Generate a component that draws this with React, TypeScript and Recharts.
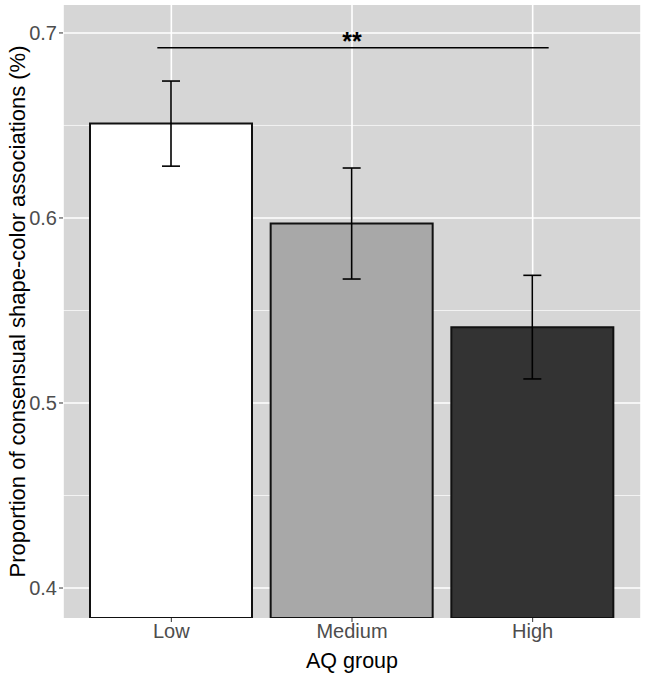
import { ComposedChart, Bar, Cell, ErrorBar, XAxis, YAxis, CartesianGrid, ReferenceLine, ReferenceArea } from 'recharts';

const categories = ['Low', 'Medium', 'High'];
const means = [0.651, 0.597, 0.541];
const lower = [0.628, 0.567, 0.513];
const upper = [0.674, 0.627, 0.569];
const fills = ['#ffffff', '#a8a8a8', '#333333'];
const yTicks = [0.4, 0.5, 0.6, 0.7];
const yMinor = [0.45, 0.55, 0.65];
const sigY = 0.692;

const data = categories.map((group, i) => ({
  group,
  mean: means[i],
  err: [means[i] - lower[i], upper[i] - means[i]],
}));

const font = '"Liberation Sans", Arial, sans-serif';

// bracket runs a little past the outer bar centres, like ggsignif
const SigLine = (props: any) => {
  const { x1, x2, y1 } = props;
  return <line x1={x1 - 14} x2={x2 + 16} y1={y1} y2={y1} stroke="#000" strokeWidth={1.3} />;
};

export default function App() {
  return (
    <div style={{ position: 'absolute', left: 0, top: 0, fontFamily: font }}>
      <ComposedChart width={646} height={673} data={data} margin={{ top: 5, right: 5, bottom: 0, left: 8 }}>
        <CartesianGrid fill="#d6d6d6" stroke="#ffffff" strokeWidth={1.6} horizontalValues={yTicks} />
        <CartesianGrid fill="none" stroke="#ffffff" strokeWidth={0.7} horizontalValues={yMinor} vertical={false} />
        <XAxis
          dataKey="group"
          height={55}
          padding={{ left: 18, right: 18 }}
          axisLine={false}
          tickSize={4}
          tickLine={{ stroke: '#333' }}
          tick={{ fill: '#4d4d4d', fontSize: 20, fontFamily: font }}
          label={{ value: 'AQ group', position: 'insideBottom', offset: 5, fill: '#000', fontSize: 21.5, fontFamily: font }}
        />
        <YAxis
          type="number"
          domain={[0.3838, 0.7151]}
          ticks={yTicks}
          allowDataOverflow
          width={55}
          axisLine={false}
          tickSize={4}
          tickLine={{ stroke: '#333' }}
          tickFormatter={(v: number) => v.toFixed(1)}
          tick={{ fill: '#4d4d4d', fontSize: 20, fontFamily: font }}
          label={{
            value: 'Proportion of consensual shape-color associations (%)',
            angle: -90,
            position: 'insideLeft',
            offset: 9,
            style: { textAnchor: 'middle' },
            fill: '#000',
            fontSize: 22,
            fontFamily: font,
          }}
        />
        <Bar dataKey="mean" barSize={162} stroke="#111" strokeWidth={2} isAnimationActive={false}>
          {data.map((d, i) => (
            <Cell key={d.group} fill={fills[i]} />
          ))}
          <ErrorBar dataKey="err" width={9} stroke="#000" strokeWidth={1.6} />
        </Bar>
        <ReferenceLine
          segment={[{ x: 'Low', y: sigY }, { x: 'High', y: sigY }]}
          shape={SigLine}
          label={{ value: '**', position: 'top', fill: '#000', fontSize: 25, fontWeight: 'bold', fontFamily: font, dy: 7 }}
        />
        <ReferenceArea fill="none" stroke="#b8b8b8" strokeWidth={1} />
      </ComposedChart>
    </div>
  );
}
